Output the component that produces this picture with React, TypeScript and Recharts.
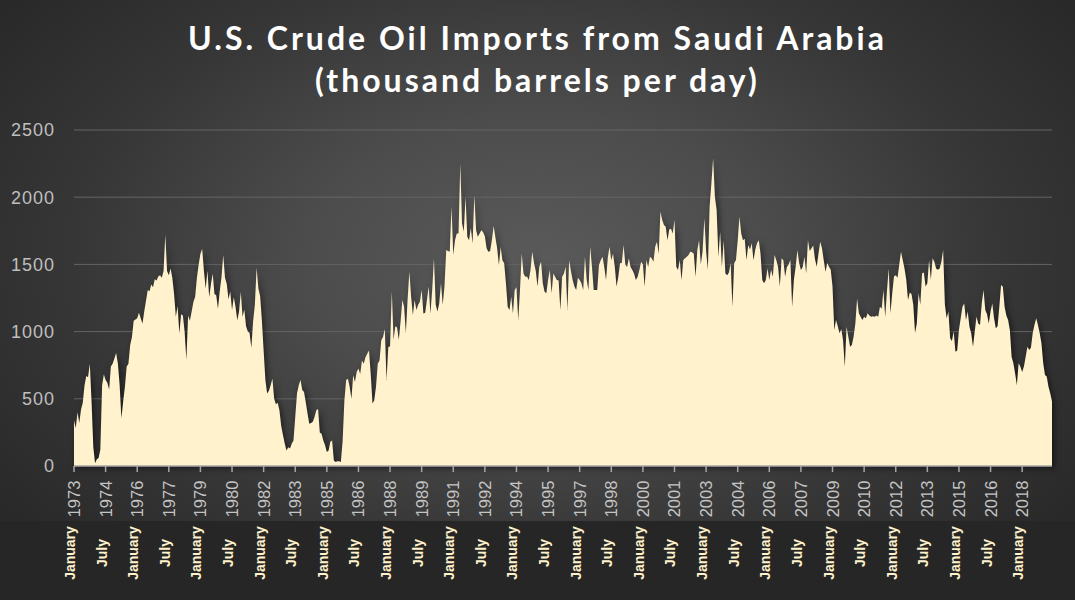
import React from "react";
import { Area, AreaChart, CartesianGrid, XAxis, YAxis } from "recharts";

// monthly imports, thousand barrels per day
const imports1970s = [
  // 1973
  340, 280, 400, 320, 420, 470, 600, 670, 660, 760, 480, 140,
  // 1974
  20, 50, 60, 120, 600, 680, 640, 620, 570, 740, 760, 800,
  // 1975
  840, 760, 600, 355, 480, 590, 740, 760, 900, 960, 1080, 1090,
  // 1976
  1100, 1140, 1100, 1060, 1150, 1230, 1310, 1300, 1350, 1330, 1390, 1380,
  // 1977
  1410, 1420, 1400, 1450, 1720, 1450, 1420, 1470, 1400, 1280, 1110, 1190,
  // 1978
  985, 1130, 1120, 1000, 790, 1120, 1080, 1150, 1220, 1260, 1400, 1500,
  // 1979
  1580, 1615, 1450, 1320, 1455, 1255, 1355, 1430, 1280, 1270, 1170, 1300
];

const imports1980s = [
  1405, 1570, 1400, 1355, 1240, 1300, 1160, 1255, 1185, 1085, 1150, 1295,
  1110, 1165, 1040, 1000, 990, 880, 1075, 1200, 1475, 1320, 1265, 1085,
  860, 640, 540, 560, 600, 650, 500, 460, 470, 415, 300, 230,
  170, 115, 140, 130, 165, 190, 365, 540, 600, 640, 565, 550,
  475, 390, 315, 320, 330, 365, 415, 425, 250, 240, 190, 155,
  105, 115, 180, 190, 40, 30, 35, 35, 30, 190, 490, 640,
  650, 590, 500, 675, 625, 700, 725, 685, 785, 760, 810, 835,
  860, 685, 465, 490, 590, 760, 785, 935, 960, 1020, 640, 885,
  890, 1300, 940, 1040, 1030, 940, 1075, 1235, 1185, 990, 1240, 1445,
  1260, 1123, 1235, 1160, 1200, 1222, 1310, 1135, 1140, 1235, 1335, 1135
];

const imports1990s = [
  1310, 1545, 1200, 1150, 1210, 1360, 1200, 1335, 1607, 1600, 1595, 1930,
  1570, 1680, 1730, 1730, 2250, 1805, 1745, 2004, 1705, 1680, 1770, 1655,
  2015, 1755, 1705, 1730, 1755, 1740, 1710, 1620, 1595, 1600, 1680, 1785,
  1700, 1620, 1495, 1630, 1530, 1508, 1360, 1185, 1160, 1260, 1135, 1310,
  1330, 1086, 1310, 1582, 1433, 1409, 1410, 1384, 1458, 1595, 1508, 1450,
  1335, 1483, 1520, 1360, 1297, 1285, 1384, 1458, 1285, 1433, 1409, 1384,
  1380, 1160, 1409, 1430, 1483, 1160, 1530, 1450, 1384, 1335, 1310, 1400,
  1384, 1360, 1310, 1557, 1384, 1310, 1632, 1480, 1310, 1310, 1310, 1495,
  1530, 1557, 1480, 1384, 1550, 1632, 1530, 1582, 1480, 1335, 1409, 1508,
  1510, 1644, 1500, 1480, 1545, 1480, 1458, 1430, 1384, 1409, 1458, 1520
];

const imports2000s = [
  1500, 1335, 1533, 1480, 1557, 1545, 1520, 1632, 1669, 1580, 1892, 1830,
  1793, 1780, 1680, 1760, 1765, 1730, 1830, 1483, 1458, 1533, 1384, 1533,
  1545, 1557, 1570, 1595, 1590, 1580, 1409, 1607, 1680, 1500, 1600, 1843,
  1600, 1460, 1930, 2100, 2290, 2004, 1905, 1557, 1743, 1483, 1680, 1433,
  1420, 1440, 1508, 1185, 1508, 1533, 1680, 1855, 1730, 1680, 1690, 1533,
  1644, 1610, 1657, 1530, 1610, 1657, 1680, 1580, 1384, 1360, 1384, 1470,
  1384, 1460, 1409, 1570, 1530, 1480, 1335, 1545, 1530, 1409, 1480, 1500,
  1533, 1185, 1384, 1480, 1607, 1510, 1458, 1480, 1557, 1433, 1680, 1600,
  1620, 1640, 1540, 1483, 1580, 1669, 1620, 1530, 1446, 1510, 1483, 1460,
  1335, 1012, 1086, 1040, 987, 1020, 937, 739, 1037, 962, 888, 900
];

const imports2010s = [
  962, 1061, 1247, 1136, 1110, 1086, 1110, 1100, 1136, 1120, 1110, 1115,
  1110, 1120, 1110, 1185, 1170, 1310, 1110, 1300, 1470, 1136, 1285, 1410,
  1420, 1400, 1500, 1595, 1530, 1470, 1385, 1235, 1290, 1280, 1200, 990,
  1060, 1285, 1200, 1433, 1440, 1335, 1360, 1533, 1385, 1545, 1520, 1470,
  1460, 1470, 1520, 1607, 1200, 1100, 1150, 950, 930, 1000, 850, 860,
  1012, 1100, 1185, 1210, 1086, 1150, 1037, 987, 888, 1000, 1111, 1061,
  1050, 1210, 1310, 1160, 1130, 1061, 1150, 1210, 1100, 1024, 1040, 1185,
  1347, 1334, 1185, 1120, 1086, 1012, 813, 764, 689, 602, 764, 739,
  700, 740, 813, 888, 863, 880, 987, 1049, 1099, 1050, 987, 913,
  // 2019, January to June
  764, 677, 665, 590, 541, 480
];

const monthNames = [
  "January", "February", "March", "April", "May", "June",
  "July", "August", "September", "October", "November", "December"
];
const startYear = 1973;
const yTicks = [0, 500, 1000, 1500, 2000, 2500];

const allValues = [...imports1970s, ...imports1980s, ...imports1990s, ...imports2000s, ...imports2010s];

const chartData = allValues.map((value, i) => ({
  label: `${monthNames[i % 12]}|${startYear + Math.floor(i / 12)}`,
  imports: value
}));

function DateTick(props: any) {
  const { x, payload } = props;
  const [month, year] = String(payload.value).split("|");
  const axisY = 466;
  return (
    <g transform={`translate(${x},${axisY})`}>
      <text
        transform="rotate(-90)"
        x={-33}
        y={6}
        textAnchor="middle"
        fill="#c4c4c4"
        fontSize={16.5}
        fontFamily="'Liberation Sans', Arial, sans-serif"
      >
        {year}
      </text>
      <text
        transform="rotate(-90)"
        x={-87}
        y={1}
        textAnchor="middle"
        fill="#fff2cc"
        fontSize={14}
        fontWeight={700}
        fontFamily="'Liberation Sans', Arial, sans-serif"
      >
        {month}
      </text>
    </g>
  );
}

export default function App() {
  return (
    <div
      style={{
        position: "absolute",
        left: 0,
        top: 0,
        width: 1075,
        height: 600,
        background: "#262626",
        overflow: "hidden"
      }}
    >
      <style>{`.recharts-area-area { filter: drop-shadow(2px 2px 3px rgba(0,0,0,0.55)); }`}</style>
      <div
        style={{
          position: "absolute",
          left: 0,
          top: 0,
          width: 1075,
          height: 521,
          background:
            "radial-gradient(ellipse 62% 80% at 50% 50%, #5a5a5a 0%, #4c4c4c 35%, #363636 70%, #292929 100%)"
        }}
      />
      <div
        style={{
          position: "absolute",
          left: 0,
          top: 17,
          width: 1075,
          textAlign: "center",
          color: "#ffffff",
          fontFamily: "Lato, 'Open Sans', sans-serif",
          fontWeight: 700,
          fontSize: 32,
          letterSpacing: 3,
          lineHeight: "42px"
        }}
      >
        <div>U.S. Crude Oil Imports from Saudi Arabia</div>
        <div>(thousand barrels per day)</div>
      </div>
      <div style={{ position: "absolute", left: 0, top: 0 }}>
        <AreaChart
          width={1075}
          height={600}
          data={chartData}
          margin={{ top: 130, right: 23, bottom: 0, left: 0 }}
        >
          <CartesianGrid vertical={false} stroke="#646464" strokeWidth={1} />
          <XAxis
            dataKey="label"
            interval={17}
            height={134}
            tickSize={6}
            tickLine={{ stroke: "#a6a6a6", strokeWidth: 1.5 }}
            axisLine={{ stroke: "#a6a6a6", strokeWidth: 1.5 }}
            tick={<DateTick />}
          />
          <YAxis
            width={74}
            domain={[0, 2500]}
            ticks={yTicks}
            axisLine={false}
            tickLine={false}
            tickSize={0}
            tickMargin={19}
            tick={{
              fill: "#bfbfbf",
              fontSize: 18,
              letterSpacing: 1,
              fontFamily: "'Liberation Sans', Arial, sans-serif"
            }}
          />
          <Area
            type="linear"
            dataKey="imports"
            stroke="none"
            fill="#fff2cc"
            fillOpacity={1}
            dot={false}
            activeDot={false}
            isAnimationActive={false}
          />
        </AreaChart>
      </div>
    </div>
  );
}
